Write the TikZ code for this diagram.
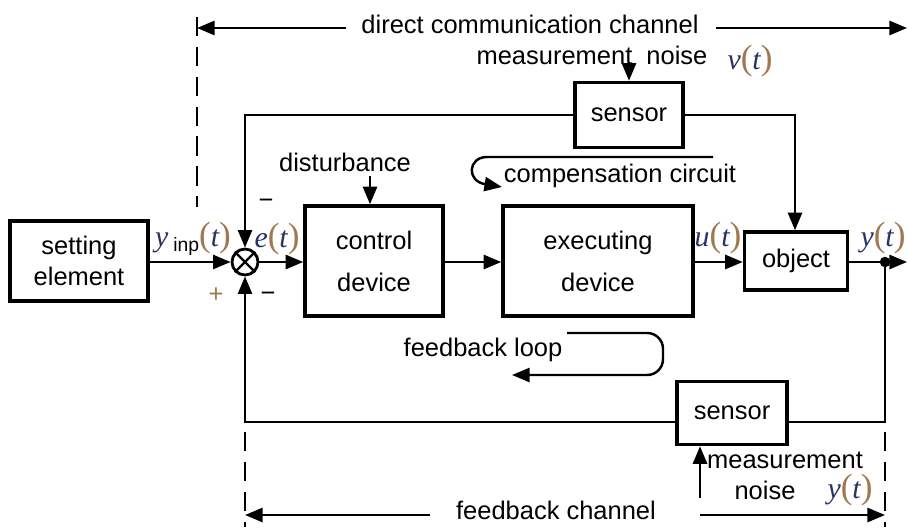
\documentclass[tikz,border=0pt]{standalone}
\usepackage{fontspec}
\setmainfont{Liberation Sans}
\newfontfamily\mathserif{Liberation Serif}
\usetikzlibrary{arrows.meta}
\definecolor{mletter}{RGB}{40,50,100}
\definecolor{mparen}{RGB}{160,120,80}
\newcommand\mpar[1]{\textcolor{mparen}{\upshape\fontsize{20}{20}\selectfont#1}}
\newcommand\sigof[1]{{\mathserif\itshape\fontsize{17}{17}\selectfont\textcolor{mletter}{#1}\mpar{(}\textcolor{mletter}{t}\mpar{)}}}
\newcommand\sigsub[2]{{\mathserif\itshape\fontsize{17}{17}\selectfont\textcolor{mletter}{#1}\,{\fontspec{Liberation Sans}\upshape\fontsize{11}{11}\selectfont\raisebox{-3pt}{#2}}\mpar{(}\textcolor{mletter}{t}\mpar{)}}}
\begin{document}
\begin{tikzpicture}[x=0.02cm,y=-0.02cm,
  box/.style={draw, line width=2pt, inner sep=0pt, align=center, font=\fontsize{14.5}{24}\selectfont},
  ln/.style={line width=1.4pt},
  arr/.style={ln, -{Triangle[length=10pt,width=8pt]}},
  dsh/.style={line width=1.4pt, dash pattern=on 11pt off 6pt},
  txt/.style={font=\fontsize{14.5}{17}\selectfont, inner sep=0pt},
  mlab/.style={inner sep=0pt}]
\useasboundingbox (0,0) rectangle (908,527);

% blocks
\node[box, minimum width=2.76cm, minimum height=1.6cm, font=\fontsize{14.5}{18}\selectfont] (set) at (79,261) {setting\\element};
\node[box, minimum width=2.76cm, minimum height=2.2cm] (ctrl) at (374,261) {control\\device};
\node[box, minimum width=3.8cm, minimum height=2.2cm] (exec) at (598,261) {executing\\device};
\node[box, minimum width=2.06cm, minimum height=1.16cm] (obj) at (796,261) {object};
\node[box, minimum width=2.16cm, minimum height=1.3cm] (sen1) at (629,115) {sensor};
\node[box, minimum width=2.2cm, minimum height=1.26cm] (sen2) at (732,413) {sensor};
\node[draw, circle, line width=1.6pt, minimum size=0.52cm, inner sep=0pt] (sum) at (245,262) {};
\draw[line width=1.3pt] (sum.north west) -- (sum.south east) (sum.north east) -- (sum.south west);

% helper coordinates
\coordinate (yo) at (885,262);
\coordinate (rend) at (907,262);
\coordinate (fbR) at (885,422);
\coordinate (fbL) at (245,422);
\coordinate (tpL) at (245,115);
\coordinate (tpR) at (795,115);
\coordinate (n1) at (629,68);
\coordinate (d1) at (370,176);
\coordinate (n2) at (700,498);

% main path
\draw[arr] (set.east |- sum) -- (sum.west);
\draw[arr] (sum.east) -- (ctrl.west |- sum);
\draw[arr] (ctrl.east |- sum) -- (exec.west |- sum);
\draw[arr] (exec.east |- sum) -- (obj.west |- sum);
\draw[ln] (obj.east |- yo) -- (yo);
\draw[arr] (yo) -- (rend);
\fill (yo) circle (3pt);

% feedback
\draw[ln] (yo) -- (fbR) -- (sen2.east |- fbR);
\draw[arr] (sen2.west |- fbL) -- (fbL) -- (sum.south);
\draw[arr] (sen1.west |- tpL) -- (tpL) -- (sum.north);
\draw[arr] (sen1.east |- tpR) -- (tpR) -- (obj.north -| tpR);

% disturbances / noise
\draw[arr] (n1) -- (sen1.north);
\draw[arr] (d1) -- (ctrl.north -| d1);
\draw[arr] (n2) -- (sen2.south -| n2);

% channels
\coordinate (dt) at (197,17);
\coordinate (db) at (197,207);
\coordinate (dL) at (197,28);
\coordinate (dR) at (907,28);
\coordinate (dl1) at (346,28);
\coordinate (dr1) at (716,28);
\draw[dsh] (dt) -- (db);
\node[txt] (dcc) at (530,24) {direct communication channel};
\draw[arr] (dl1) -- (dL);
\draw[arr] (dr1) -- (dR);

\coordinate (lb1) at (245,432);
\coordinate (lb2) at (245,527);
\coordinate (rb1) at (885,432);
\coordinate (rb2) at (885,527);
\draw[dsh] (lb1) -- (lb2);
\draw[dsh] (rb1) -- (rb2);
\coordinate (bL) at (245,515);
\coordinate (bR) at (885,515);
\coordinate (bl1) at (430,515);
\coordinate (br1) at (700,515);
\node[txt] (fbc) at (556,510) {feedback channel};
\draw[arr] (bl1) -- (bL);
\draw[arr] (br1) -- (bR);

% loops
\coordinate (c1) at (713,157);
\coordinate (c2) at (487,157);
\coordinate (c3) at (502,187);
\draw[arr] (c1) -- (c2) .. controls (468,157) and (466,181) .. (c3);
\node[txt] (comp) at (620,176) {compensation circuit};

\coordinate (f1) at (567,333);
\coordinate (f2) at (663,333);
\coordinate (f3) at (663,375);
\coordinate (f4) at (512,375);
\draw[arr, rounded corners=9pt] (f1) -- (f2) -- (f3) -- (f4);
\node[txt] (fbl) at (483,350) {feedback loop};

% text labels
\node[txt] (dist) at (345,162) {disturbance};
\node[txt] (mn1) at (592,55) {measurement\ \ noise};
\node[mlab] (vt) at (750,61) {\sigof{v}};
\node[txt] (mn2a) at (785,460) {measurement};
\node[txt] (mn2b) at (765,490) {noise};
\node[mlab] (yt2) at (850,490) {\sigof{y}};
\node[mlab] (yinp) at (193,239) {\sigsub{y}{inp}};
\node[mlab] (et) at (277,239) {\sigof{e}};
\node[mlab] (ut) at (718,238) {\sigof{u}};
\node[mlab] (yt1) at (883,238) {\sigof{y}};
\node[txt, text=mparen] (plus) at (216,295) {+};
\node[txt] (minus1) at (266,204) {\textminus};
\node[txt] (minus2) at (268,297) {\textminus};
\end{tikzpicture}
\end{document}
